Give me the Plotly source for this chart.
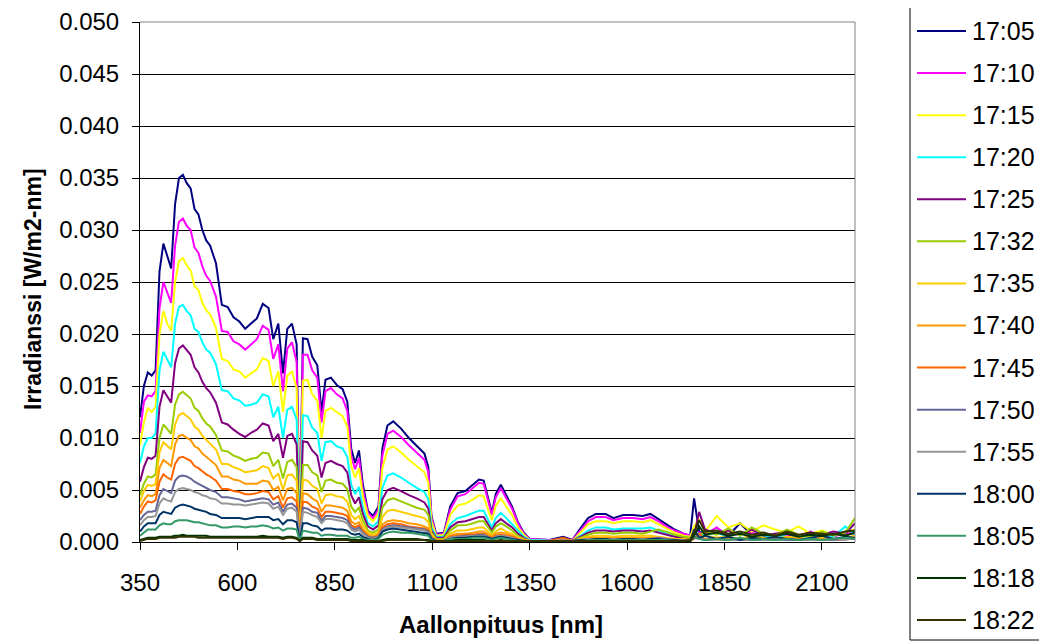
import plotly.graph_objects as go

# Wavelength grid (nm)
wavelength_nm = [
    350, 360, 370, 380, 390, 400, 410, 420, 430, 440,
    450, 460, 470, 480, 490, 500, 510, 520, 530, 545,
    560, 575, 590, 605, 620, 635, 650, 665, 680, 692,
    705, 717, 728, 740, 752, 760, 768, 780, 792, 805,
    816, 826, 840, 855, 870, 882, 892, 902, 912, 922,
    935, 948, 962, 972, 985, 1000, 1020, 1040, 1060, 1080,
    1090, 1098, 1110, 1130, 1146, 1165, 1185, 1205, 1220, 1232,
    1244, 1253, 1263, 1276, 1290, 1305, 1320, 1335, 1350, 1400,
    1436, 1460, 1480, 1500, 1520, 1545, 1565, 1590, 1615, 1640,
    1660, 1680, 1700, 1722, 1745, 1762, 1772, 1785, 1800, 1830,
    1860, 1890, 1920, 1950, 1980, 2010, 2040, 2070, 2100, 2130,
    2160, 2185,
]

# Irradiance values, in mW/m2-nm
irr_1705 = [
    12.0, 15.0, 16.3, 16.0, 16.5, 26.0, 28.7, 27.5, 26.3, 32.5,
    35.0, 35.3, 34.5, 34.0, 32.0, 31.5, 30.0, 29.0, 28.5, 26.8,
    22.8, 22.6, 21.6, 21.2, 20.5, 21.0, 21.5, 22.9, 22.5, 19.5,
    21.0, 16.2, 20.5, 21.0, 19.0, 1.0, 19.6, 19.5, 17.8, 17.0,
    12.5, 15.6, 15.8, 15.1, 14.7, 13.5, 9.0, 7.6, 8.8, 5.5,
    3.0, 2.5, 3.4, 9.0, 11.2, 11.6, 10.9, 10.0, 9.2, 8.5,
    7.2, 2.5, 0.8, 0.9, 3.4, 4.7, 4.9, 5.5, 6.0, 5.9,
    4.0, 2.8, 4.6, 5.5, 4.5, 3.4, 1.9, 0.9, 0.3, 0.2,
    0.5, 0.2, 1.3, 2.3, 2.7, 2.7, 2.3, 2.6, 2.6, 2.5,
    2.7, 2.2, 1.7, 1.2, 0.8, 0.6, 4.2, 1.0, 0.8, 0.9,
    0.6, 1.8, 0.7, 0.5, 0.8, 0.6, 0.5, 0.7, 0.9, 0.6,
    0.8, 1.0,
]
irr_1710 = [
    10.5, 13.5, 14.1, 14.0, 14.5, 22.5, 25.0, 24.0, 23.0, 28.5,
    30.8, 31.1, 30.4, 30.0, 28.3, 27.8, 26.5, 25.6, 25.1, 23.6,
    20.3, 20.2, 19.3, 19.0, 18.5, 19.0, 19.5, 20.8, 20.4, 17.6,
    19.0, 14.5, 18.6, 19.2, 17.3, 0.9, 18.0, 18.0, 16.5, 15.8,
    11.5, 14.5, 14.8, 14.2, 13.8, 12.6, 8.3, 7.0, 8.1, 5.0,
    2.8, 2.3, 3.1, 8.3, 10.4, 10.7, 10.1, 9.3, 8.6, 7.9,
    6.7, 2.3, 0.7, 0.8, 3.1, 4.4, 4.6, 5.2, 5.7, 5.6,
    3.8, 2.6, 4.3, 5.2, 4.2, 3.2, 1.8, 0.8, 0.3, 0.2,
    0.3, 0.2, 1.1, 2.0, 2.4, 2.4, 2.1, 2.3, 2.3, 2.2,
    2.4, 2.0, 1.5, 1.1, 0.8, 0.6, 1.2, 0.9, 0.7, 1.4,
    0.6, 0.8, 0.9, 0.5, 0.7, 0.6, 0.5, 1.0, 0.6, 0.5,
    0.9, 0.8,
]
irr_1715 = [
    9.3, 11.5, 12.9, 12.5, 13.0, 20.0, 22.2, 21.0, 20.3, 25.0,
    27.0, 27.3, 26.6, 26.1, 24.6, 24.2, 23.0, 22.3, 21.9, 20.6,
    17.6, 17.4, 16.6, 16.4, 15.8, 16.2, 16.6, 17.7, 17.4, 15.0,
    16.4, 12.5, 16.0, 16.4, 14.8, 0.8, 15.5, 15.6, 14.2, 13.6,
    10.0, 12.6, 12.9, 12.5, 12.1, 11.1, 7.3, 6.2, 7.1, 4.4,
    2.5, 2.0, 2.7, 7.1, 8.9, 9.2, 8.6, 7.9, 7.3, 6.7,
    5.7, 2.0, 0.6, 0.7, 2.6, 3.5, 3.7, 4.1, 4.5, 4.4,
    3.0, 2.1, 3.5, 4.2, 3.4, 2.6, 1.4, 0.7, 0.2, 0.1,
    0.2, 0.1, 0.9, 1.7, 2.0, 2.0, 1.8, 2.0, 2.0, 1.9,
    2.1, 1.7, 1.3, 0.9, 0.6, 0.5, 1.5, 2.2, 1.0, 2.5,
    1.4, 1.8, 1.0, 1.6, 1.2, 0.9, 1.5, 0.8, 1.1, 0.7,
    0.9, 1.2,
]
irr_1720 = [
    7.6, 9.2, 10.0, 10.0, 10.4, 16.5, 18.3, 17.6, 16.8, 21.0,
    22.6, 22.8, 22.2, 21.8, 20.5, 20.2, 19.2, 18.5, 18.2, 17.1,
    14.6, 14.5, 13.8, 13.6, 13.1, 13.2, 13.4, 14.2, 14.0, 12.0,
    13.0, 10.0, 12.7, 13.0, 11.8, 0.6, 12.2, 12.1, 11.0, 10.5,
    7.8, 9.6, 9.7, 9.2, 9.0, 8.2, 5.5, 4.6, 5.3, 3.3,
    1.8, 1.5, 2.0, 5.2, 6.4, 6.6, 6.2, 5.7, 5.2, 4.8,
    4.1, 1.4, 0.5, 0.5, 1.7, 2.3, 2.5, 2.8, 3.0, 3.0,
    2.0, 1.4, 2.3, 2.8, 2.3, 1.7, 1.0, 0.5, 0.2, 0.1,
    0.1, 0.1, 0.6, 1.1, 1.4, 1.4, 1.2, 1.3, 1.3, 1.3,
    1.4, 1.1, 0.9, 0.6, 0.4, 0.3, 0.9, 0.8, 0.6, 0.9,
    0.5, 0.9, 0.6, 0.5, 0.7, 0.5, 0.4, 0.6, 0.8, 0.5,
    1.5, 0.7,
]
irr_1725 = [
    5.8, 7.2, 8.1, 8.0, 8.3, 13.0, 14.6, 14.0, 13.4, 17.2,
    18.6, 18.9, 18.4, 18.0, 16.8, 16.3, 15.4, 14.8, 14.4, 13.4,
    11.5, 11.3, 10.8, 10.4, 10.1, 10.5, 10.8, 11.4, 11.2, 9.7,
    10.4, 8.1, 10.2, 10.4, 9.4, 0.5, 9.7, 9.6, 8.8, 8.3,
    6.2, 7.6, 7.8, 7.5, 7.3, 6.7, 4.5, 3.7, 4.3, 2.7,
    1.5, 1.2, 1.6, 4.1, 5.0, 5.2, 4.9, 4.5, 4.2, 3.8,
    3.2, 1.1, 0.4, 0.4, 1.4, 1.9, 2.0, 2.2, 2.4, 2.4,
    1.6, 1.1, 1.8, 2.2, 1.8, 1.4, 0.8, 0.4, 0.1, 0.1,
    0.1, 0.1, 0.5, 0.9, 1.1, 1.1, 1.0, 1.1, 1.1, 1.0,
    1.1, 0.9, 0.7, 0.5, 0.4, 0.3, 0.6, 2.9, 1.2, 0.8,
    1.1, 0.7, 1.2, 0.6, 0.8, 1.0, 0.6, 0.9, 0.7, 1.0,
    0.8, 1.8,
]
irr_1732 = [
    4.5, 5.6, 6.3, 6.2, 6.5, 10.0, 11.3, 10.8, 10.4, 13.2,
    14.2, 14.45, 14.1, 13.8, 12.9, 12.6, 11.9, 11.4, 11.1, 10.3,
    8.8, 8.7, 8.3, 8.1, 7.8, 8.0, 8.1, 8.6, 8.5, 7.3,
    7.9, 6.1, 7.7, 7.9, 7.2, 0.4, 7.4, 7.4, 6.7, 6.4,
    4.8, 5.9, 6.0, 5.7, 5.6, 5.1, 3.4, 2.9, 3.3, 2.1,
    1.1, 0.9, 1.2, 3.3, 4.0, 4.2, 3.9, 3.6, 3.3, 3.1,
    2.6, 0.9, 0.3, 0.3, 1.1, 1.6, 1.6, 1.8, 2.0, 2.0,
    1.3, 0.9, 1.5, 1.8, 1.5, 1.1, 0.6, 0.3, 0.1, 0.1,
    0.1, 0.1, 0.4, 0.7, 0.9, 0.9, 0.8, 0.9, 0.9, 0.8,
    1.0, 1.2, 1.0, 0.7, 0.5, 0.4, 0.8, 0.6, 1.0, 0.7,
    1.3, 0.6, 1.4, 0.8, 0.6, 1.2, 0.7, 0.5, 1.0, 0.6,
    0.9, 2.3,
]
irr_1735 = [
    3.9, 4.9, 5.5, 5.4, 5.6, 8.6, 9.6, 9.2, 8.9, 11.3,
    12.2, 12.4, 12.1, 11.8, 11.1, 10.8, 10.2, 9.8, 9.5, 8.9,
    7.5, 7.5, 7.2, 7.0, 6.7, 6.8, 6.9, 7.3, 7.1, 6.1,
    6.6, 5.0, 6.4, 6.5, 5.9, 0.3, 6.0, 5.9, 5.4, 5.1,
    3.7, 4.5, 4.6, 4.4, 4.3, 3.9, 2.6, 2.2, 2.5, 1.6,
    0.9, 0.7, 0.9, 2.4, 3.0, 3.1, 2.9, 2.7, 2.5, 2.3,
    1.9, 0.7, 0.2, 0.2, 0.8, 1.1, 1.1, 1.3, 1.4, 1.4,
    0.9, 0.6, 1.0, 1.3, 1.0, 0.8, 0.4, 0.2, 0.1, 0.1,
    0.1, 0.1, 0.3, 0.5, 0.6, 0.6, 0.5, 0.6, 0.6, 0.6,
    0.6, 0.5, 0.4, 0.3, 0.3, 0.2, 0.5, 0.4, 0.6, 0.4,
    0.5, 0.3, 0.6, 0.4, 0.3, 0.5, 0.4, 0.3, 0.5, 0.3,
    0.4, 0.6,
]
irr_1740 = [
    3.3, 4.0, 4.5, 4.4, 4.6, 7.1, 7.9, 7.6, 7.3, 9.4,
    10.2, 10.3, 10.0, 9.8, 9.2, 9.0, 8.5, 8.2, 7.9, 7.4,
    6.3, 6.3, 6.0, 5.9, 5.6, 5.6, 5.6, 5.9, 5.8, 5.0,
    5.3, 4.0, 5.1, 5.2, 4.7, 0.3, 4.7, 4.6, 4.2, 3.9,
    2.9, 3.5, 3.5, 3.4, 3.3, 3.0, 2.0, 1.7, 1.9, 1.2,
    0.7, 0.5, 0.7, 1.7, 2.0, 2.1, 2.0, 1.8, 1.7, 1.5,
    1.3, 0.5, 0.2, 0.2, 0.6, 0.8, 0.8, 0.9, 1.0, 1.0,
    0.7, 0.5, 0.8, 0.9, 0.8, 0.6, 0.3, 0.2, 0.1, 0.1,
    0.3, 0.1, 0.2, 0.4, 0.4, 0.4, 0.4, 0.4, 0.4, 0.4,
    0.4, 0.4, 0.3, 0.2, 0.2, 0.2, 0.4, 0.6, 0.3, 0.4,
    0.3, 0.2, 0.4, 0.3, 0.2, 0.4, 0.3, 0.2, 0.3, 0.2,
    0.3, 0.4,
]
irr_1745 = [
    2.7, 3.4, 3.9, 3.8, 4.0, 5.8, 6.5, 6.2, 6.0, 7.5,
    8.1, 8.2, 8.0, 7.8, 7.3, 7.1, 6.8, 6.5, 6.3, 5.9,
    5.1, 5.1, 4.9, 4.8, 4.6, 4.6, 4.7, 4.9, 4.8, 4.1,
    4.4, 3.3, 4.2, 4.3, 3.9, 0.2, 3.9, 3.8, 3.4, 3.2,
    2.4, 2.9, 2.9, 2.8, 2.7, 2.5, 1.6, 1.4, 1.6, 1.0,
    0.5, 0.4, 0.6, 1.4, 1.7, 1.8, 1.7, 1.5, 1.4, 1.3,
    1.1, 0.4, 0.1, 0.1, 0.5, 0.6, 0.7, 0.7, 0.8, 0.8,
    0.5, 0.4, 0.6, 0.7, 0.6, 0.5, 0.3, 0.1, 0.1, 0.1,
    0.4, 0.1, 0.2, 0.3, 0.3, 0.3, 0.3, 0.3, 0.3, 0.3,
    0.3, 0.3, 0.2, 0.2, 0.1, 0.1, 0.3, 0.8, 0.2, 0.3,
    0.2, 0.2, 0.3, 0.2, 0.2, 0.3, 0.2, 0.2, 0.2, 0.2,
    0.3, 0.3,
]
irr_1750 = [
    2.1, 2.6, 2.9, 2.9, 3.0, 4.5, 5.1, 4.9, 4.7, 5.9,
    6.3, 6.4, 6.3, 6.1, 5.8, 5.6, 5.4, 5.2, 5.0, 4.8,
    4.3, 4.3, 4.2, 4.1, 3.9, 4.0, 4.1, 4.2, 4.1, 3.6,
    3.8, 2.9, 3.6, 3.7, 3.3, 0.2, 3.3, 3.2, 2.9, 2.8,
    2.0, 2.5, 2.5, 2.4, 2.3, 2.1, 1.4, 1.2, 1.4, 0.9,
    0.5, 0.4, 0.5, 1.2, 1.5, 1.6, 1.5, 1.4, 1.3, 1.2,
    1.0, 0.4, 0.1, 0.1, 0.4, 0.5, 0.6, 0.6, 0.7, 0.7,
    0.5, 0.3, 0.5, 0.6, 0.5, 0.4, 0.2, 0.1, 0.1, 0.1,
    0.1, 0.1, 0.2, 0.3, 0.3, 0.3, 0.3, 0.3, 0.3, 0.3,
    0.3, 0.4, 0.3, 0.2, 0.2, 0.1, 0.4, 0.3, 0.2, 0.3,
    0.2, 0.3, 0.2, 0.2, 0.3, 0.2, 0.2, 0.3, 0.2, 0.2,
    0.3, 0.3,
]
irr_1755 = [
    1.6, 2.1, 2.4, 2.4, 2.5, 3.7, 4.2, 4.0, 3.9, 4.8,
    5.1, 5.2, 5.1, 5.0, 4.8, 4.7, 4.5, 4.4, 4.2, 4.1,
    3.7, 3.7, 3.6, 3.6, 3.5, 3.6, 3.7, 3.8, 3.7, 3.2,
    3.4, 2.6, 3.2, 3.3, 2.9, 0.2, 2.9, 2.8, 2.6, 2.4,
    1.8, 2.2, 2.2, 2.1, 2.0, 1.8, 1.2, 1.0, 1.2, 0.8,
    0.4, 0.3, 0.5, 1.1, 1.4, 1.5, 1.4, 1.3, 1.2, 1.1,
    0.9, 0.3, 0.1, 0.1, 0.4, 0.5, 0.5, 0.6, 0.6, 0.6,
    0.4, 0.3, 0.5, 0.6, 0.5, 0.4, 0.2, 0.1, 0.1, 0.1,
    0.2, 0.1, 0.2, 0.3, 0.3, 0.3, 0.3, 0.3, 0.3, 0.3,
    0.3, 0.3, 0.2, 0.2, 0.1, 0.1, 1.0, 0.5, 0.2, 0.3,
    0.2, 0.2, 0.3, 0.2, 0.2, 0.3, 0.2, 0.2, 0.2, 0.3,
    0.2, 0.4,
]
irr_1800 = [
    1.0, 1.5, 1.8, 1.8, 1.8, 2.6, 2.9, 2.8, 2.7, 3.3,
    3.5, 3.6, 3.5, 3.4, 3.2, 3.1, 3.0, 2.9, 2.7, 2.6,
    2.3, 2.3, 2.3, 2.3, 2.2, 2.3, 2.4, 2.4, 2.4, 2.1,
    2.2, 1.7, 2.1, 2.1, 1.9, 0.1, 1.8, 1.8, 1.6, 1.5,
    1.1, 1.3, 1.3, 1.2, 1.2, 1.1, 0.8, 0.7, 0.8, 0.5,
    0.3, 0.2, 0.4, 1.0, 1.2, 1.3, 1.2, 1.1, 1.0, 0.9,
    0.8, 0.3, 0.1, 0.1, 0.3, 0.4, 0.4, 0.5, 0.5, 0.5,
    0.4, 0.3, 0.4, 0.5, 0.4, 0.3, 0.2, 0.1, 0.1, 0.1,
    0.1, 0.1, 0.2, 0.2, 0.3, 0.3, 0.2, 0.3, 0.3, 0.2,
    0.3, 0.3, 0.2, 0.2, 0.1, 0.1, 1.2, 0.4, 0.6, 0.3,
    0.5, 0.2, 0.4, 0.3, 0.5, 0.3, 0.2, 0.4, 0.6, 0.3,
    0.5, 0.4,
]
irr_1805 = [
    0.6, 0.9, 1.2, 1.2, 1.2, 1.6, 1.8, 1.7, 1.7, 2.0,
    2.1, 2.1, 2.1, 2.0, 1.9, 1.9, 1.8, 1.7, 1.6, 1.6,
    1.4, 1.4, 1.5, 1.5, 1.4, 1.5, 1.5, 1.6, 1.5, 1.3,
    1.4, 1.1, 1.3, 1.3, 1.2, 0.1, 1.1, 1.0, 0.9, 0.9,
    0.6, 0.7, 0.7, 0.6, 0.6, 0.6, 0.4, 0.4, 0.5, 0.3,
    0.2, 0.2, 0.3, 0.7, 0.9, 1.0, 0.9, 0.9, 0.8, 0.7,
    0.6, 0.2, 0.1, 0.1, 0.3, 0.3, 0.3, 0.4, 0.4, 0.4,
    0.3, 0.2, 0.3, 0.4, 0.3, 0.2, 0.1, 0.1, 0.1, 0.1,
    0.1, 0.1, 0.1, 0.2, 0.2, 0.2, 0.2, 0.2, 0.2, 0.2,
    0.2, 0.2, 0.2, 0.1, 0.1, 0.1, 0.5, 0.3, 0.2, 0.3,
    0.2, 0.4, 0.2, 0.3, 0.2, 0.3, 0.2, 0.3, 0.2, 0.3,
    0.4, 0.3,
]
irr_1818 = [
    0.2, 0.3, 0.4, 0.4, 0.4, 0.5, 0.5, 0.5, 0.5, 0.6,
    0.6, 0.7, 0.6, 0.6, 0.6, 0.6, 0.6, 0.6, 0.5, 0.5,
    0.5, 0.5, 0.5, 0.5, 0.5, 0.5, 0.5, 0.6, 0.5, 0.5,
    0.5, 0.4, 0.5, 0.5, 0.4, 0.1, 0.4, 0.4, 0.4, 0.3,
    0.3, 0.3, 0.3, 0.3, 0.3, 0.3, 0.2, 0.2, 0.2, 0.2,
    0.1, 0.1, 0.1, 0.2, 0.3, 0.3, 0.3, 0.3, 0.3, 0.2,
    0.2, 0.1, 0.1, 0.1, 0.1, 0.2, 0.2, 0.2, 0.2, 0.2,
    0.1, 0.1, 0.1, 0.2, 0.1, 0.1, 0.1, 0.1, 0.1, 0.1,
    0.1, 0.1, 0.1, 0.1, 0.1, 0.1, 0.1, 0.1, 0.1, 0.1,
    0.1, 0.1, 0.1, 0.1, 0.1, 0.1, 0.6, 1.5, 0.7, 0.9,
    0.6, 0.8, 0.5, 0.7, 0.6, 0.8, 0.5, 0.7, 0.6, 0.8,
    0.6, 0.9,
]
irr_1822 = [
    0.1, 0.2, 0.3, 0.3, 0.3, 0.4, 0.4, 0.4, 0.4, 0.4,
    0.5, 0.5, 0.5, 0.5, 0.5, 0.4, 0.4, 0.4, 0.4, 0.4,
    0.4, 0.4, 0.4, 0.4, 0.4, 0.4, 0.4, 0.4, 0.4, 0.4,
    0.4, 0.3, 0.4, 0.4, 0.3, 0.1, 0.3, 0.3, 0.3, 0.2,
    0.2, 0.2, 0.2, 0.2, 0.2, 0.2, 0.1, 0.1, 0.1, 0.1,
    0.1, 0.1, 0.1, 0.1, 0.2, 0.2, 0.2, 0.2, 0.2, 0.2,
    0.1, 0.1, 0.1, 0.1, 0.1, 0.1, 0.1, 0.1, 0.1, 0.1,
    0.1, 0.1, 0.1, 0.1, 0.1, 0.1, 0.1, 0.1, 0.1, 0.1,
    0.1, 0.1, 0.1, 0.1, 0.1, 0.1, 0.1, 0.1, 0.1, 0.1,
    0.1, 0.1, 0.1, 0.1, 0.1, 0.2, 0.9, 2.1, 1.0, 1.1,
    0.8, 1.0, 0.7, 0.9, 0.6, 1.0, 0.7, 0.9, 0.8, 0.7,
    1.0, 1.1,
]

series_labels = ["17:05", "17:10", "17:15", "17:20", "17:25", "17:32", "17:35",
                 "17:40", "17:45", "17:50", "17:55", "18:00", "18:05", "18:18", "18:22"]
series_values = [irr_1705, irr_1710, irr_1715, irr_1720, irr_1725, irr_1732, irr_1735,
                 irr_1740, irr_1745, irr_1750, irr_1755, irr_1800, irr_1805, irr_1818, irr_1822]
series_colors = ["#000080", "#FF00FF", "#FFFF00", "#00FFFF", "#800080", "#99CC00", "#FFCC00",
                 "#FF9900", "#FF6600", "#666699", "#969696", "#003366", "#339966", "#003300", "#333300"]

x_ticks = [350, 600, 850, 1100, 1350, 1600, 1850, 2100]

FONT = "Liberation Sans, Arial, sans-serif"

fig = go.Figure()
for label, vals, col in zip(series_labels, series_values, series_colors):
    fig.add_trace(go.Scatter(
        x=wavelength_nm,
        y=[v / 1000.0 for v in vals],  # mW -> W
        mode="lines",
        name=label,
        line=dict(color=col, width=2),
        showlegend=False,
    ))

# The page adds an 8 px body margin, so the figure is drawn 8 px smaller
# and all screen-pixel positions below are shifted by that offset.
OFF = 8
W, H = 1047 - OFF, 644 - OFF
# target plot area in screen pixels: x 140..855, y 22..542
L, R, T, B = 140 - OFF, 855 - OFF, 22 - OFF, 542 - OFF
def px_x(p):
    return (p - OFF - L) / (R - L)
def px_y(p):
    return (B - (p - OFF)) / (B - T)

shapes = [
    dict(type="line", xref="paper", yref="paper", x0=0, x1=1, y0=1, y1=1,
         line=dict(color="#808080", width=1), layer="above"),
    dict(type="line", xref="paper", yref="paper", x0=1, x1=1, y0=0, y1=1,
         line=dict(color="#808080", width=1), layer="above"),
    dict(type="rect", xref="paper", yref="paper",
         x0=px_x(910), x1=px_x(1045), y0=px_y(640), y1=px_y(5),
         line=dict(color="black", width=1), fillcolor="rgba(0,0,0,0)", layer="above"),
]
annotations = [
    dict(text="<b>Aallonpituus [nm]</b>", xref="paper", yref="paper",
         x=px_x(501), y=px_y(625), xanchor="center", yanchor="middle",
         showarrow=False, font=dict(family=FONT, size=24, color="black")),
    dict(text="<b>Irradianssi [W/m2-nm]</b>", xref="paper", yref="paper",
         x=px_x(33), y=px_y(289), xanchor="center", yanchor="middle", textangle=-90,
         showarrow=False, font=dict(family=FONT, size=23, color="black")),
]

# legend (key) drawn inside the bordered box on the right
leg_top, leg_step = 31, 42.07
for i, (label, col) in enumerate(zip(series_labels, series_colors)):
    yc = leg_top + i * leg_step
    shapes.append(dict(type="line", xref="paper", yref="paper",
                       x0=px_x(917), x1=px_x(966), y0=px_y(yc), y1=px_y(yc),
                       line=dict(color=col, width=2), layer="above"))
    annotations.append(dict(text=label, xref="paper", yref="paper",
                            x=px_x(970), y=px_y(yc), xanchor="left", yanchor="middle",
                            showarrow=False, font=dict(family=FONT, size=25, color="black")))

fig.update_layout(
    width=W, height=H,
    margin=dict(l=L, r=W - R, t=T, b=H - B, pad=0),
    paper_bgcolor="white", plot_bgcolor="white",
    font=dict(family=FONT, size=24, color="black"),
    showlegend=False,
    xaxis=dict(
        range=[350, 2185], tickvals=x_ticks, ticktext=[str(t) for t in x_ticks],
        showgrid=False, zeroline=False, automargin=False,
        showline=True, linecolor="black", linewidth=1,
        ticks="outside", ticklen=7, tickcolor="black", tickwidth=1,
        ticklabelstandoff=12,
        tickfont=dict(family=FONT, size=24, color="black"),
    ),
    yaxis=dict(
        range=[0, 0.05], dtick=0.005, tick0=0, tickformat=".3f",
        showgrid=True, gridcolor="black", gridwidth=1, zeroline=False, automargin=False,
        showline=True, linecolor="black", linewidth=1,
        ticks="outside", ticklen=7, tickcolor="black", tickwidth=1,
        ticklabelstandoff=8,
        tickfont=dict(family=FONT, size=24, color="black"),
    ),
    shapes=shapes,
    annotations=annotations,
)

fig.write_html("out.html")
